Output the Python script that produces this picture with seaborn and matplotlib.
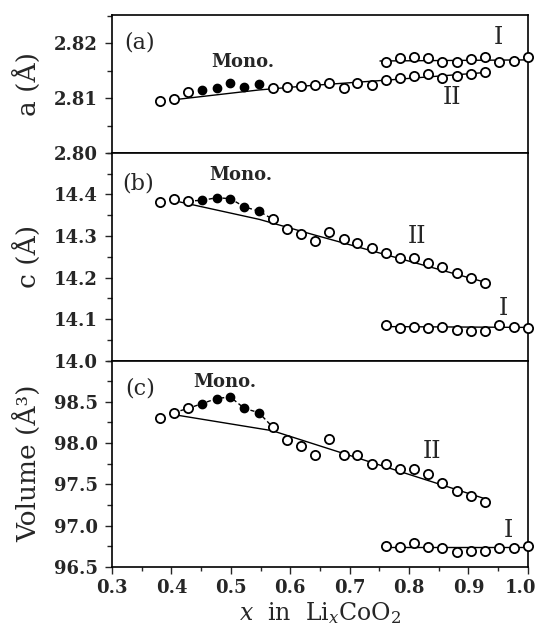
import matplotlib
matplotlib.use("Agg")
import matplotlib.pyplot as plt
import matplotlib.transforms as mtransforms
import seaborn as sns
import pandas as pd
from matplotlib.ticker import MultipleLocator, FixedLocator

# ---------------- data ----------------
x_main = [0.381, 0.404, 0.428, 0.452, 0.476, 0.499, 0.523, 0.547, 0.571, 0.594,
          0.618, 0.642, 0.666, 0.690, 0.713, 0.737, 0.761, 0.785, 0.809, 0.832,
          0.856, 0.880, 0.904, 0.928]
filled = [0, 0, 0, 1, 1, 1, 1, 1, 0, 0, 0, 0, 0, 0, 0, 0, 0, 0, 0, 0, 0, 0, 0, 0]
x_I = [0.761, 0.785, 0.809, 0.832, 0.856, 0.880, 0.904, 0.928, 0.952, 0.976, 1.000]

a_main = [2.8094, 2.8098, 2.8112, 2.8115, 2.8118, 2.8127, 2.8121, 2.8126, 2.8118, 2.8121,
          2.8122, 2.8124, 2.8127, 2.8119, 2.8128, 2.8125, 2.8133, 2.8136, 2.8141, 2.8145,
          2.8137, 2.8141, 2.8145, 2.8147]
a_I = [2.8167, 2.8173, 2.8175, 2.8173, 2.8167, 2.8167, 2.8171, 2.8175, 2.8167, 2.8168, 2.8176]

c_main = [14.382, 14.388, 14.384, 14.386, 14.392, 14.390, 14.370, 14.360, 14.340, 14.318,
          14.306, 14.288, 14.310, 14.292, 14.284, 14.272, 14.260, 14.248, 14.248, 14.236,
          14.226, 14.212, 14.200, 14.186]
c_I = [14.086, 14.078, 14.082, 14.078, 14.080, 14.074, 14.072, 14.072, 14.085, 14.082, 14.078]

v_main = [98.30, 98.37, 98.42, 98.48, 98.54, 98.56, 98.42, 98.37, 98.19, 98.04,
          97.97, 97.86, 98.05, 97.86, 97.86, 97.75, 97.75, 97.68, 97.68, 97.63,
          97.52, 97.42, 97.36, 97.28]
v_I = [96.756, 96.744, 96.785, 96.744, 96.724, 96.683, 96.695, 96.695, 96.728, 96.728, 96.756]

# fitted / guide lines
a_hex_x = [0.403, 0.547, 0.633, 0.762, 0.929]
a_hex_y = [2.8097, 2.8115, 2.8123, 2.8133, 2.8147]
a_Ifit_x = [0.751, 1.0]
a_Ifit_y = [2.8168, 2.8170]

c_hex_x = [0.414, 0.548, 0.642, 0.930]
c_hex_y = [14.382, 14.340, 14.302, 14.188]
c_mono_x = [0.428, 0.452, 0.476, 0.499, 0.523, 0.547, 0.571]
c_mono_y = [14.384, 14.386, 14.392, 14.390, 14.370, 14.360, 14.340]
c_Ifit_x = [0.755, 1.0]
c_Ifit_y = [14.082, 14.080]

v_hex_x = [0.400, 0.570, 0.930]
v_hex_y = [98.35, 98.15, 97.32]
v_mono_x = [0.404, 0.428, 0.452, 0.476, 0.499, 0.523, 0.547, 0.571]
v_mono_y = [98.37, 98.42, 98.48, 98.54, 98.56, 98.42, 98.37, 98.19]
v_Ifit_x = [0.755, 1.0]
v_Ifit_y = [96.745, 96.745]

x_ticks = [0.3, 0.4, 0.5, 0.6, 0.7, 0.8, 0.9, 1.0]
a_ticks = [2.80, 2.81, 2.82]
c_ticks = [14.0, 14.1, 14.2, 14.3, 14.4]
v_ticks = [96.5, 97.0, 97.5, 98.0, 98.5]

# ---------------- style ----------------
sns.set_style("ticks")
plt.rcParams['font.family'] = ['DejaVu Serif']
plt.rcParams['mathtext.fontset'] = 'dejavuserif'

fig = plt.figure(figsize=(5.42, 6.26), dpi=100)
gs = fig.add_gridspec(3, 1, left=0.2066, right=0.974, top=0.976, bottom=0.0947,
                      hspace=0, height_ratios=[138.3, 208.4, 206.7])
axes = [fig.add_subplot(gs[i]) for i in range(3)]

panels = [
    dict(ym=a_main, yI=a_I, hx=a_hex_x, hy=a_hex_y, mx=None, my=None,
         ix=a_Ifit_x, iy=a_Ifit_y, ylim=(2.80, 2.8252), ticks=a_ticks, minor=0.005,
         fmt="{:.2f}", ylabel="a (Å)", tag="(a)", tagpos=(0.067, 0.80),
         monopos=(0.315, 0.66), Ipos=(0.93, 0.84), IIpos=(0.817, 0.40)),
    dict(ym=c_main, yI=c_I, hx=c_hex_x, hy=c_hex_y, mx=c_mono_x, my=c_mono_y,
         ix=c_Ifit_x, iy=c_Ifit_y, ylim=(14.0, 14.5), ticks=c_ticks, minor=0.05,
         fmt="{:.1f}", ylabel="c (Å)", tag="(b)", tagpos=(0.0625, 0.853),
         monopos=(0.31, 0.896), Ipos=(0.94, 0.252), IIpos=(0.733, 0.598)),
    dict(ym=v_main, yI=v_I, hx=v_hex_x, hy=v_hex_y, mx=v_mono_x, my=v_mono_y,
         ix=v_Ifit_x, iy=v_Ifit_y, ylim=(96.5, 99.0), ticks=v_ticks, minor=0.25,
         fmt="{:.1f}", ylabel="Volume (Å³)", tag="(c)", tagpos=(0.067, 0.864),
         monopos=(0.272, 0.898), Ipos=(0.954, 0.175), IIpos=(0.769, 0.56)),
]

for ax, p in zip(axes, panels):
    df = pd.DataFrame({"x": x_main, "y": p["ym"], "filled": filled})
    dI = pd.DataFrame({"x": x_I, "y": p["yI"]})
    # guide lines
    sns.lineplot(x=p["hx"], y=p["hy"], ax=ax, color="black", lw=1.0,
                 sort=False, estimator=None, zorder=1)
    sns.lineplot(x=p["ix"], y=p["iy"], ax=ax, color="black", lw=1.0,
                 sort=False, estimator=None, zorder=1)
    if p["mx"] is not None:
        sns.lineplot(x=p["mx"], y=p["my"], ax=ax, color="black", lw=1.0,
                     linestyle=(0, (3, 2)), sort=False, estimator=None, zorder=1)
    # data points
    sns.scatterplot(data=df[df["filled"] == 0], x="x", y="y", ax=ax, marker="o", s=44,
                    facecolor="white", edgecolor="black", linewidth=1.3, zorder=3,
                    clip_on=False)
    sns.scatterplot(data=df[df["filled"] == 1], x="x", y="y", ax=ax, marker="o", s=36,
                    facecolor="black", edgecolor="black", linewidth=1.0, zorder=3)
    sns.scatterplot(data=dI, x="x", y="y", ax=ax, marker="o", s=44,
                    facecolor="white", edgecolor="black", linewidth=1.3, zorder=3,
                    clip_on=False)

    ax.set_xlim(0.3, 1.0)
    ax.set_ylim(*p["ylim"])
    ax.yaxis.set_major_locator(FixedLocator(p["ticks"]))
    ax.set_yticklabels([p["fmt"].format(t) for t in p["ticks"]],
                       fontsize=13, fontweight="bold")
    ax.yaxis.set_minor_locator(MultipleLocator(p["minor"]))
    ax.xaxis.set_major_locator(FixedLocator(x_ticks))
    ax.xaxis.set_minor_locator(MultipleLocator(0.05))
    ax.tick_params(axis="y", which="major", direction="out", length=5, width=1.0, pad=5)
    ax.tick_params(axis="y", which="minor", direction="out", length=3.5, width=1.0)
    ax.tick_params(axis="x", which="major", direction="out", length=5, width=1.0, pad=4)
    ax.tick_params(axis="x", which="minor", direction="out", length=3, width=1.0)
    for s in ax.spines.values():
        s.set_linewidth(1.2)
        s.set_color("black")
    ax.set_ylabel(p["ylabel"], fontsize=19)
    ax.yaxis.set_label_coords(-0.17, 0.5)
    ax.set_xlabel("")

    ax.text(*p["tagpos"], p["tag"], transform=ax.transAxes, fontsize=16,
            ha="center", va="center")
    ax.text(*p["monopos"], "Mono.", transform=ax.transAxes, fontsize=13,
            fontweight="bold", ha="center", va="center")
    ax.text(*p["Ipos"], "I", transform=ax.transAxes, fontsize=17,
            ha="center", va="center")
    ax.text(*p["IIpos"], "II", transform=ax.transAxes, fontsize=17,
            ha="center", va="center")

for ax in axes[:2]:
    ax.tick_params(axis="x", which="both", bottom=False, labelbottom=False)

axes[2].set_xticklabels([f"{t:.1f}" for t in x_ticks], fontsize=13, fontweight="bold")
# nudge the last label so it stays inside the canvas
last = axes[2].get_xticklabels()[-1]
last.set_transform(last.get_transform() +
                   mtransforms.ScaledTranslation(-5 / 72, 0, fig.dpi_scale_trans))
axes[2].set_xlabel(r"$x$  in  Li$_x$CoO$_2$", fontsize=17, labelpad=2)

fig.savefig("out.png", dpi=100)
